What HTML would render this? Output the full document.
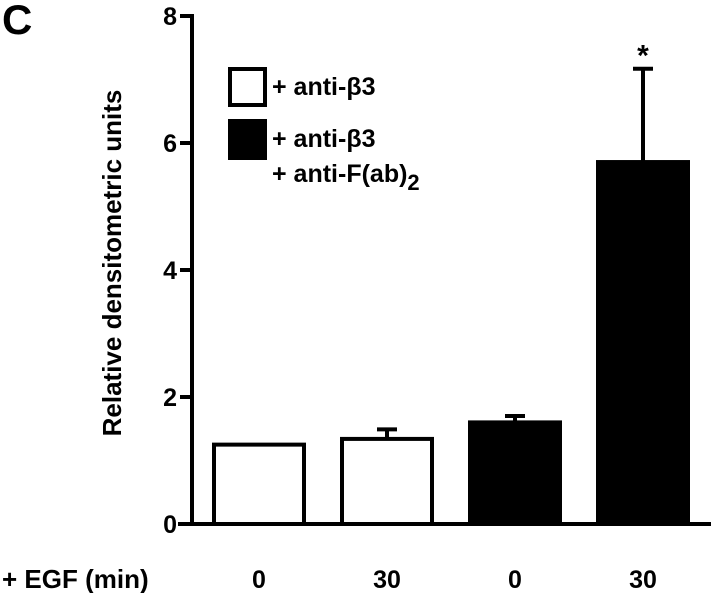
<!DOCTYPE html>
<html><head><meta charset="utf-8"><style>
html,body{margin:0;padding:0;background:#fff;}
svg{display:block;font-family:"Liberation Sans",Arial,sans-serif;font-weight:bold;}
</style></head><body>
<svg id="chart" width="720" height="593" viewBox="0 0 720 593" xmlns="http://www.w3.org/2000/svg">
<text x="2" y="34" font-size="42">C</text>
<text transform="translate(121,263) rotate(-90)" text-anchor="middle" font-size="26">Relative densitometric units</text>
<text x="2" y="588" font-size="26">+ EGF (min)</text>
<g id="axes"></g>
<g id="bars"></g>
<g>
<rect x="230" y="69" width="35" height="36" fill="#fff" stroke="#000" stroke-width="4"/>
<text x="272" y="95" font-size="25">+ anti-β3</text>
<rect x="228" y="119" width="39" height="41" fill="#000"/>
<text x="272" y="147" font-size="25">+ anti-β3</text>
<text x="272" y="182" font-size="25">+ anti-F(ab)<tspan font-size="22" dy="8">2</tspan></text>
</g>
</svg>
<script>
const categories = ["0", "30", "0", "30"];
const values = [1.25, 1.34, 1.6, 5.7];
const errors = [0, 0.15, 0.1, 1.47];
const fills = ["white", "white", "black", "black"];
const yTicks = [0, 2, 4, 6, 8];
const significance = ["", "", "", "*"];

const NS = "http://www.w3.org/2000/svg";
const x0 = 192, baseY = 524, topY = 16, yMax = 8;
const y = v => baseY - v / yMax * (baseY - topY);
const slot = 128, firstCenter = 259, barW = 90;
const xc = i => firstCenter + i * slot;
function mk(tag, attrs, parent) {
  const e = document.createElementNS(NS, tag);
  for (const k in attrs) e.setAttribute(k, attrs[k]);
  parent.appendChild(e);
  return e;
}
const axes = document.getElementById("axes");
const bars = document.getElementById("bars");
let ax = mk("line", {x1: x0, y1: topY - 2, x2: x0, y2: baseY + 2, stroke: "#000", "stroke-width": 4}, axes);


let xa = mk("line", {x1: 178, y1: baseY, x2: 711, y2: baseY, stroke: "#000", "stroke-width": 4}, axes);


yTicks.forEach(t => {
  const tk = mk("line", {x1: 180, y1: y(t), x2: x0, y2: y(t), stroke: "#000", "stroke-width": 4}, axes);
  
  
  const lb = mk("text", {x: 177, y: y(t) + 9, "text-anchor": "end", "font-size": 25}, axes);
  lb.textContent = t;
  
  
});
values.forEach((v, i) => {
  const cx = xc(i);
  if (errors[i] > 0) {
    const el = mk("line", {x1: cx, y1: y(v), x2: cx, y2: y(v + errors[i]), stroke: "#000", "stroke-width": 4}, bars);
    
    
    const cap = mk("line", {x1: cx - 10, y1: y(v + errors[i]), x2: cx + 10, y2: y(v + errors[i]), stroke: "#000", "stroke-width": 4}, bars);
    
    
  }
  const r = mk("rect", {x: cx - barW / 2, y: y(v), width: barW, height: baseY - y(v),
    fill: fills[i] === "white" ? "#fff" : "#000", stroke: "#000", "stroke-width": 4}, bars);
  
  
  const lb = mk("text", {x: cx, y: 588, "text-anchor": "middle", "font-size": 25}, bars);
  lb.textContent = categories[i];
  
  
  if (significance[i]) {
    const s = mk("text", {x: cx, y: y(v + errors[i]) - 3, "text-anchor": "middle", "font-size": 30}, bars);
    s.textContent = significance[i];
    
    
  }
});
</script>
</body></html>
